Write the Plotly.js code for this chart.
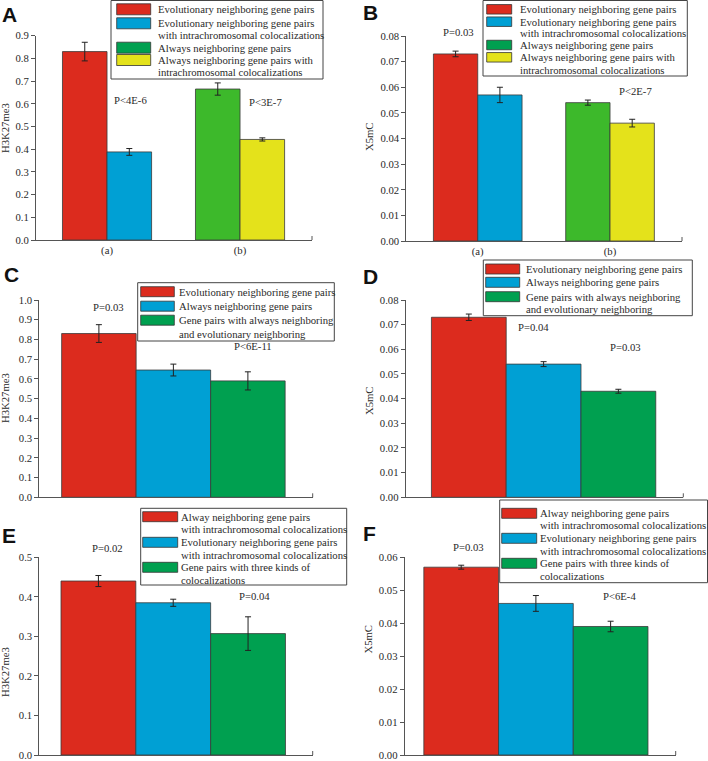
<!DOCTYPE html>
<html><head><meta charset="utf-8">
<script src="https://cdn.plot.ly/plotly-3.0.1.min.js"></script>
<style>html,body{margin:0;padding:0;background:#fff;}</style>
</head><body>
<div id="chart" style="width:708px;height:761px;"></div>
<script>
// ---------------- DATA ----------------
const AB_groups = ['(a)', '(a)', '(b)', '(b)'];
const AB_categories = ['(a)', '(b)'];
const AB_labels = [
  'Evolutionary neighboring gene pairs',
  'Evolutionary neighboring gene pairs\nwith intrachromosomal colocalizations',
  'Always neighboring gene pairs',
  'Always neighboring gene pairs with\nintrachromosomal colocalizations'
];
const A_values = [0.83, 0.388, 0.665, 0.443];
const A_errors = [0.041, 0.015, 0.027, 0.007];
const A_pvalues = ['P<4E-6', 'P<3E-7'];
const B_values = [0.073, 0.057, 0.054, 0.046];
const B_errors = [0.0011, 0.003, 0.001, 0.0015];
const B_pvalues = ['P=0.03', 'P<2E-7'];

const CD_categories = ['Evolutionary neighboring', 'Always neighboring', 'Always and evolutionary neighboring'];
const CD_labels = [
  'Evolutionary neighboring gene pairs',
  'Always neighboring gene pairs',
  'Gene pairs with always neighboring\nand evolutionary neighboring'
];
const C_values = [0.83, 0.645, 0.59];
const C_errors = [0.045, 0.03, 0.046];
const C_pvalues = ['P=0.03', 'P<6E-11'];
const D_values = [0.073, 0.054, 0.043];
const D_errors = [0.0013, 0.001, 0.0008];
const D_pvalues = ['P=0.04', 'P=0.03'];

const EF_categories = ['Always neighboring, intrachromosomal', 'Evolutionary neighboring, intrachromosomal', 'Three kinds of colocalizations'];
const EF_labels = [
  'Alway neighboring gene pairs\nwith intrachromosomal colocalizations',
  'Evolutionary neighboring gene pairs\nwith intrachromosomal colocalizations',
  'Gene pairs with three kinds of\ncolocalizations'
];
const E_values = [0.44, 0.385, 0.307];
const E_errors = [0.014, 0.009, 0.0425];
const E_pvalues = ['P=0.02', 'P=0.04'];
const F_values = [0.057, 0.046, 0.039];
const F_errors = [0.0006, 0.0024, 0.0016];
const F_pvalues = ['P=0.03', 'P<6E-4'];

const yTitles = ['H3K27me3', 'X5mC', 'H3K27me3', 'X5mC', 'H3K27me3', 'X5mC'];
const panelLetters = ['A', 'B', 'C', 'D', 'E', 'F'];

// ---------------- STYLE / LAYOUT CONFIG ----------------
const W = 708, H = 761;
const PX = x => x / W;
const PY = y => 1 - y / H;
const RED = '#dc2b1e', BLUE = '#00a0d4', LGREEN = '#3db92b', YELLOW = '#e4e21b', GREEN = '#00a050';
const SERIF = '"Liberation Serif", "Times New Roman", Times, serif';
const TXT = '#2a2a2a';
const FS = 10.7;

const panels = [
  { x: AB_groups, cats: AB_categories, v: A_values, e: A_errors, names: AB_labels, p: A_pvalues, grouped: true,
    barColors: [RED, BLUE, LGREEN, YELLOW], swColors: [RED, BLUE, GREEN, YELLOW],
    dom: [36, 312, 240, 35.7], xr: [-0.534, 1.541], yr: [0, 0.9], dt: 0.1, fmt: '.1f',
    ytitle: [5, 128], letter: [0, 14.5], pv: [[130, 100], [265, 102]],
    leg: { box: [111, 0.5, 323, 79], sw: [116.7, 150.7, 11], tx: 156.7, lines: [9.3, 23.3, 35, 47.7, 60, 71.7] } },
  { x: AB_groups, cats: AB_categories, v: B_values, e: B_errors, names: AB_labels, p: B_pvalues, grouped: true,
    barColors: [RED, BLUE, LGREEN, YELLOW], swColors: [RED, BLUE, GREEN, YELLOW],
    dom: [406.3, 682, 241, 36], xr: [-0.54, 1.544], yr: [0, 0.08], dt: 0.01, fmt: '.2f',
    ytitle: [369, 137], letter: [361, 12.5], pv: [[458, 32], [635, 91]],
    leg: { box: [483, 0.5, 687.3, 76], sw: [486.7, 511.7, 9.5], tx: 519, lines: [9.3, 21.7, 33.3, 45, 57.3, 70] } },
  { x: CD_categories, cats: CD_categories, v: C_values, e: C_errors, names: CD_labels, p: C_pvalues, grouped: false,
    barColors: [RED, BLUE, GREEN], swColors: [RED, BLUE, GREEN],
    dom: [39.3, 312.7, 497.3, 300], xr: [-0.8, 2.87], yr: [0, 1.0], dt: 0.1, fmt: '.1f',
    ytitle: [5, 398], letter: [2, 274], pv: [[108, 306.7], [253, 345.7]],
    leg: { box: [137.7, 282.7, 334.3, 341], sw: [140.7, 174.3, 10], tx: 178.3, lines: [291.7, 306.2, 320.2, 333.5] } },
  { x: CD_categories, cats: CD_categories, v: D_values, e: D_errors, names: CD_labels, p: D_pvalues, grouped: false,
    barColors: [RED, BLUE, GREEN], swColors: [RED, BLUE, GREEN],
    dom: [405.7, 683.3, 497.3, 300], xr: [-0.844, 2.868], yr: [0, 0.08], dt: 0.01, fmt: '.2f',
    ytitle: [369, 401], letter: [361, 276], pv: [[533.7, 326.7], [625.7, 346.7]],
    leg: { box: [483.3, 260, 692.3, 315.7], sw: [485.7, 519.7, 10], tx: 525, lines: [269, 282.3, 296.7, 309.3] } },
  { x: EF_categories, cats: EF_categories, v: E_values, e: E_errors, names: EF_labels, p: E_pvalues, grouped: false,
    barColors: [RED, BLUE, GREEN], swColors: [RED, BLUE, GREEN],
    dom: [39.3, 312.7, 755, 557.3], xr: [-0.79, 2.864], yr: [0, 0.5], dt: 0.1, fmt: '.1f',
    ytitle: [5, 672], letter: [0, 535], pv: [[107, 548.3], [254.7, 595.7]],
    leg: { box: [140.7, 508.3, 346.7, 585], sw: [142.7, 177.7, 10], tx: 180, lines: [516.7, 529.3, 542.3, 555, 567.3, 580] } },
  { x: EF_categories, cats: EF_categories, v: F_values, e: F_errors, names: EF_labels, p: F_pvalues, grouped: false,
    barColors: [RED, BLUE, GREEN], swColors: [RED, BLUE, GREEN],
    dom: [404.7, 675.7, 755, 557.3], xr: [-0.756, 2.871], yr: [0, 0.06], dt: 0.01, fmt: '.2f',
    ytitle: [367, 639.5], letter: [361, 533], pv: [[468.3, 546.7], [619.8, 595.7]],
    leg: { box: [499.7, 500, 707.5, 582.7], sw: [501.7, 536.7, 10], tx: 539, lines: [513.3, 525, 538.3, 550.7, 563.3, 575.7] } }
];

// ---------------- BUILD ----------------
const traces = [];
const layout = {
  width: W, height: H, margin: { l: 0, r: 0, t: 0, b: 0 },
  paper_bgcolor: '#fff', plot_bgcolor: 'rgba(0,0,0,0)',
  showlegend: false, barmode: 'overlay',
  font: { family: SERIF, size: FS, color: TXT },
  annotations: [], shapes: []
};

panels.forEach((P, k) => {
  const sfx = k ? String(k + 1) : '';
  const xa = 'x' + sfx, ya = 'y' + sfx;
  const [x0, x1, yb, yt] = P.dom;
  layout['xaxis' + sfx] = {
    domain: [PX(x0), PX(x1)], anchor: ya, type: 'category',
    categoryorder: 'array', categoryarray: P.cats, range: P.xr,
    showline: true, linecolor: '#555', linewidth: 1, ticks: '', showgrid: false, zeroline: false,
    showticklabels: P.grouped, tickfont: { family: SERIF, size: FS, color: TXT }, fixedrange: true
  };
  layout['yaxis' + sfx] = {
    domain: [PY(yb), PY(yt)], anchor: xa, range: P.yr, dtick: P.dt, tick0: 0, tickformat: P.fmt,
    showline: true, linecolor: '#555', linewidth: 1, ticks: 'outside', ticklen: 4, tickcolor: '#555', tickwidth: 1,
    showgrid: false, zeroline: false, tickfont: { family: SERIF, size: FS, color: TXT }, fixedrange: true
  };
  P.v.forEach((val, i) => {
    let w = 1, off = -0.5;
    if (P.grouped) { w = 0.335; off = (i % 2 === 0) ? -0.335 : 0; }
    traces.push({
      type: 'bar', xaxis: xa, yaxis: ya, name: P.names[i].replace('\n', ' '),
      x: [P.x[i]], y: [val], width: [w], offset: [off],
      marker: { color: P.barColors[i], line: { color: '#3a3a3a', width: 0.8 } },
      error_y: { type: 'data', array: [P.e[i]], visible: true, color: '#222', thickness: 1, width: 3 },
      hoverinfo: 'skip'
    });
  });
  layout.shapes.push({ type: 'line', xref: 'paper', yref: 'paper', x0: PX(x1), x1: PX(x1), y0: PY(yb), y1: PY(yb - 4),
    line: { color: '#555', width: 1 } });
  layout.annotations.push({ xref: 'paper', yref: 'paper', x: PX(P.ytitle[0]), y: PY(P.ytitle[1]), text: yTitles[k],
    textangle: -90, showarrow: false, xanchor: 'center', yanchor: 'middle', font: { family: SERIF, size: FS, color: TXT } });
  layout.annotations.push({ xref: 'paper', yref: 'paper', x: PX(P.letter[0]), y: PY(P.letter[1]), text: '<b>' + panelLetters[k] + '</b>',
    showarrow: false, xanchor: 'left', yanchor: 'middle', font: { family: '"Liberation Sans", Arial, sans-serif', size: 21, color: '#111' } });
  P.p.forEach((t, j) => {
    layout.annotations.push({ xref: 'paper', yref: 'paper', x: PX(P.pv[j][0]), y: PY(P.pv[j][1]), text: t,
      showarrow: false, xanchor: 'center', yanchor: 'middle', font: { family: SERIF, size: FS, color: TXT } });
  });
  const L = P.leg;
  layout.shapes.push({ type: 'rect', xref: 'paper', yref: 'paper', x0: PX(L.box[0]), x1: PX(L.box[2]), y0: PY(L.box[3]), y1: PY(L.box[1]),
    line: { color: '#444', width: 1 }, fillcolor: '#fff', layer: 'above' });
  let line = 0;
  P.names.forEach((nm, i) => {
    const parts = nm.split('\n');
    const cy = L.lines[line];
    layout.shapes.push({ type: 'rect', xref: 'paper', yref: 'paper', x0: PX(L.sw[0]), x1: PX(L.sw[1]),
      y0: PY(cy + L.sw[2] / 2), y1: PY(cy - L.sw[2] / 2), line: { color: '#333', width: 0.8 }, fillcolor: P.swColors[i], layer: 'above' });
    parts.forEach(s => {
      layout.annotations.push({ xref: 'paper', yref: 'paper', x: PX(L.tx - 1), y: PY(L.lines[line]), text: s,
        showarrow: false, xanchor: 'left', yanchor: 'middle', font: { family: SERIF, size: FS, color: TXT } });
      line++;
    });
  });
});

Plotly.newPlot('chart', traces, layout, { displayModeBar: false, staticPlot: true });
</script>
</body></html>
